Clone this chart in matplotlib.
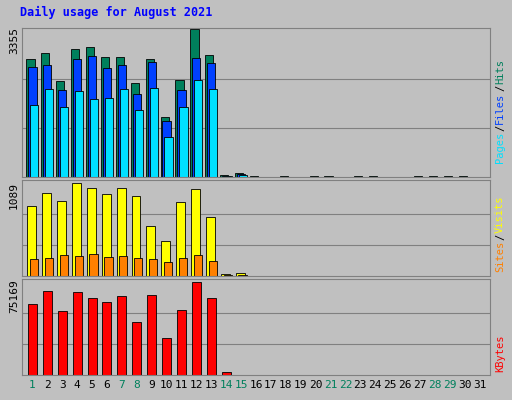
import numpy as np
import matplotlib
matplotlib.use("Agg")
import matplotlib.pyplot as plt

days = list(range(1, 32))
weekend = [1, 7, 8, 14, 15, 21, 22, 28, 29]

hits = [2680, 2815, 2184, 2905, 2950, 2725, 2725, 2139, 2680, 1373, 2207, 3355, 2770, 45, 90,
        15, 0, 15, 0, 15, 15, 0, 15, 15, 0, 0, 15, 15, 15, 15, 0]
files = [2500, 2545, 1982, 2680, 2747, 2477, 2545, 1891, 2612, 1283, 1982, 2702, 2590, 30, 60,
         10, 0, 10, 0, 10, 10, 0, 10, 10, 0, 0, 10, 10, 10, 10, 0]
pages = [1644, 2004, 1599, 1959, 1779, 1801, 2004, 1531, 2027, 900, 1599, 2207, 2004, 20, 40,
         5, 0, 5, 0, 5, 5, 0, 5, 5, 0, 0, 5, 5, 5, 5, 0]
visits = [817, 975, 873, 1089, 1032, 953, 1032, 930, 590, 408, 862, 1021, 692, 23, 34,
          5, 0, 5, 0, 5, 5, 0, 5, 5, 0, 0, 5, 5, 5, 5, 0]
sites = [204, 215, 250, 238, 261, 227, 238, 215, 193, 159, 215, 250, 181, 10, 15,
         3, 0, 3, 0, 3, 3, 0, 3, 3, 0, 0, 3, 3, 3, 3, 0]
kbytes = [57160, 68120, 51680, 66560, 61860, 58720, 63420, 43070, 64210, 29750, 52460, 75169, 61860,
          2350, 0, 200, 0, 200, 0, 200, 200, 0, 200, 200, 0, 0, 200, 200, 200, 200, 0]

BG = "#C0C0C0"
W, H = 512, 400
fig = plt.figure(figsize=(W / 100, H / 100), dpi=100, facecolor=BG)
mono = "DejaVu Sans Mono"

def make_ax(top, bottom):
    ax = fig.add_axes([22 / W, 1 - bottom / H, (490 - 22) / W, (bottom - top) / H])
    ax.set_facecolor(BG)
    ax.set_xlim(0.3, 31.7)
    for s in ax.spines.values():
        s.set_color("#808080")
    ax.set_xticks([])
    ax.set_yticks([])
    return ax

x = np.array(days)

ax1 = make_ax(28, 177)
ax1.set_ylim(0, 3355 * 1.01)
for f in (1 / 3, 2 / 3):
    ax1.axhline(3355 * f, color="#808080", lw=0.8, zorder=0)
ax1.bar(x - 0.13, hits, width=0.55, color="#00805C", edgecolor="black", lw=0.6)
ax1.bar(x, files, width=0.55, color="#0040FF", edgecolor="black", lw=0.6)
ax1.bar(x + 0.13, pages, width=0.55, color="#00E0FF", edgecolor="black", lw=0.6)

ax2 = make_ax(180, 276)
ax2.set_ylim(0, 1089 * 1.03)
for f in (1 / 3, 2 / 3):
    ax2.axhline(1089 * f, color="#808080", lw=0.8, zorder=0)
ax2.bar(x - 0.05, visits, width=0.6, color="#FFFF00", edgecolor="black", lw=0.6)
ax2.bar(x + 0.1, sites, width=0.55, color="#FF8000", edgecolor="black", lw=0.6)

ax3 = make_ax(279, 375)
ax3.set_ylim(0, 75169 * 1.03)
for f in (1 / 3, 2 / 3):
    ax3.axhline(75169 * f, color="#808080", lw=0.8, zorder=0)
ax3.bar(x, kbytes, width=0.6, color="#FF0000", edgecolor="black", lw=0.6)

for d in days:
    ax3.text(d, -0.05, str(d), transform=ax3.get_xaxis_transform(), ha="center", va="top",
             fontsize=8, family=mono, color="#00805C" if d in weekend else "black")

fig.text(20 / W, 1 - 12 / H, "Daily usage for August 2021", color="#0000FF", fontsize=8.5,
         family=mono, weight="bold", va="center")

fig.text(14 / W, 1 - 40 / H, "3355", rotation=90, fontsize=8, family=mono, ha="center", va="center")
fig.text(14 / W, 1 - 195 / H, "1089", rotation=90, fontsize=8, family=mono, ha="center", va="center")
fig.text(14 / W, 1 - 296 / H, "75169", rotation=90, fontsize=8, family=mono, ha="center", va="center")

renderer = fig.canvas.get_renderer()

def right_label(parts, y_bottom):
    # stack rotated pieces bottom-up, measuring each one
    y = y_bottom
    for txt, col in parts:
        t = fig.text(500 / W, 1 - y / H, txt, rotation=90, fontsize=7.5, family=mono,
                     color=col, ha="center", va="bottom")
        y -= t.get_window_extent(renderer).height + 1

right_label([("Pages", "#00E0FF"), ("/", "black"), ("Files", "#0040FF"), ("/", "black"), ("Hits", "#00805C")], 163)
right_label([("Sites", "#FF8000"), ("/", "black"), ("Visits", "#FFFF00")], 272)
right_label([("KBytes", "#FF0000")], 372)

fig.savefig("out.png", dpi=100, facecolor=BG)
